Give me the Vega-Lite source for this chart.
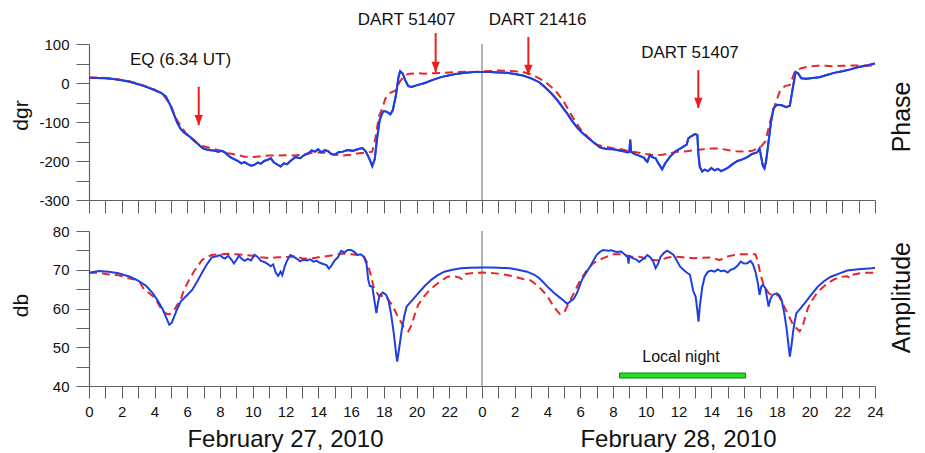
{
  "$schema": "https://vega.github.io/schema/vega-lite/v6.json",
  "padding": {"left": 10, "top": 11, "right": 4, "bottom": 4},
  "bounds": "flush",
  "spacing": 31,
  "config": {
    "font": "Liberation Sans",
    "view": {"stroke": null},
    "axis": {"labelColor": "#111", "titleColor": "#111", "labelFontSize": 15, "titleFontSize": 21, "titleFontWeight": "normal", "grid": false}
  },
  "datasets": {
    "phaseObs": [
      {"h":0,"v":13},{"h":0.5,"v":13},{"h":1,"v":12},{"h":1.5,"v":10},{"h":2,"v":7},{"h":2.5,"v":3},{"h":3,"v":-3},{"h":3.5,"v":-10},{"h":4,"v":-18},{"h":4.4,"v":-25},{"h":4.7,"v":-35},{"h":5.0,"v":-60},{"h":5.2,"v":-82},{"h":5.4,"v":-103},{"h":5.6,"v":-118},{"h":5.8,"v":-127},{"h":6.0,"v":-133},{"h":6.2,"v":-139},{"h":6.5,"v":-150},{"h":6.8,"v":-162},{"h":7.0,"v":-168},{"h":7.3,"v":-172},{"h":7.6,"v":-173},{"h":7.9,"v":-176},{"h":8.1,"v":-174},{"h":8.3,"v":-178},{"h":8.5,"v":-186},{"h":8.7,"v":-192},{"h":8.9,"v":-196},{"h":9.1,"v":-200},{"h":9.3,"v":-206},{"h":9.5,"v":-203},{"h":9.7,"v":-208},{"h":9.9,"v":-212},{"h":10.1,"v":-210},{"h":10.3,"v":-204},{"h":10.5,"v":-207},{"h":10.7,"v":-200},{"h":10.9,"v":-197},{"h":11.1,"v":-193},{"h":11.3,"v":-204},{"h":11.5,"v":-209},{"h":11.7,"v":-214},{"h":11.9,"v":-206},{"h":12.1,"v":-208},{"h":12.3,"v":-200},{"h":12.6,"v":-190},{"h":12.9,"v":-193},{"h":13.1,"v":-186},{"h":13.4,"v":-180},{"h":13.6,"v":-173},{"h":13.8,"v":-176},{"h":14.0,"v":-170},{"h":14.2,"v":-178},{"h":14.4,"v":-172},{"h":14.6,"v":-175},{"h":14.8,"v":-182},{"h":15.0,"v":-184},{"h":15.2,"v":-178},{"h":15.5,"v":-176},{"h":15.8,"v":-172},{"h":16.1,"v":-174},{"h":16.4,"v":-170},{"h":16.7,"v":-167},{"h":16.9,"v":-175},{"h":17.1,"v":-192},{"h":17.3,"v":-213},{"h":17.45,"v":-195},{"h":17.6,"v":-140},{"h":17.75,"v":-95},{"h":17.9,"v":-78},{"h":18.0,"v":-72},{"h":18.2,"v":-74},{"h":18.4,"v":-80},{"h":18.55,"v":-70},{"h":18.75,"v":-30},{"h":18.9,"v":15},{"h":19.0,"v":30},{"h":19.15,"v":25},{"h":19.3,"v":8},{"h":19.5,"v":-8},{"h":19.7,"v":-10},{"h":20.0,"v":-6},{"h":20.5,"v":0},{"h":21.0,"v":8},{"h":21.5,"v":15},{"h":22.0,"v":20},{"h":22.5,"v":24},{"h":23.0,"v":26},{"h":23.5,"v":28},{"h":24.0,"v":28},
      {"h":24.5,"v":28},{"h":25.0,"v":27},{"h":25.5,"v":26},{"h":26.0,"v":23},{"h":26.5,"v":19},{"h":27.0,"v":12},{"h":27.5,"v":2},{"h":27.8,"v":-9},{"h":28.2,"v":-25},{"h":28.6,"v":-44},{"h":29.0,"v":-67},{"h":29.2,"v":-78},{"h":29.5,"v":-97},{"h":29.8,"v":-114},{"h":30.1,"v":-127},{"h":30.4,"v":-138},{"h":30.8,"v":-152},{"h":31.2,"v":-165},{"h":31.6,"v":-169},{"h":32.0,"v":-170},{"h":32.4,"v":-173},{"h":32.7,"v":-176},{"h":32.9,"v":-178},{"h":33.0,"v":-176},{"h":33.05,"v":-145},{"h":33.1,"v":-176},{"h":33.3,"v":-182},{"h":33.5,"v":-185},{"h":33.7,"v":-188},{"h":33.9,"v":-192},{"h":34.0,"v":-198},{"h":34.1,"v":-202},{"h":34.25,"v":-185},{"h":34.4,"v":-190},{"h":34.6,"v":-193},{"h":34.8,"v":-208},{"h":35.0,"v":-221},{"h":35.2,"v":-205},{"h":35.5,"v":-188},{"h":35.8,"v":-176},{"h":36.1,"v":-168},{"h":36.3,"v":-163},{"h":36.5,"v":-158},{"h":36.6,"v":-142},{"h":36.8,"v":-136},{"h":37.0,"v":-131},{"h":37.15,"v":-133},{"h":37.22,"v":-185},{"h":37.3,"v":-215},{"h":37.45,"v":-227},{"h":37.6,"v":-222},{"h":37.8,"v":-226},{"h":38.0,"v":-218},{"h":38.2,"v":-224},{"h":38.4,"v":-220},{"h":38.6,"v":-226},{"h":38.8,"v":-222},{"h":39.0,"v":-218},{"h":39.3,"v":-208},{"h":39.6,"v":-200},{"h":39.9,"v":-196},{"h":40.2,"v":-190},{"h":40.5,"v":-182},{"h":40.8,"v":-178},{"h":40.95,"v":-168},{"h":41.05,"v":-190},{"h":41.15,"v":-212},{"h":41.25,"v":-219},{"h":41.35,"v":-200},{"h":41.5,"v":-150},{"h":41.65,"v":-100},{"h":41.8,"v":-65},{"h":42.0,"v":-56},{"h":42.3,"v":-57},{"h":42.6,"v":-62},{"h":42.8,"v":-58},{"h":42.95,"v":-20},{"h":43.15,"v":28},{"h":43.3,"v":25},{"h":43.5,"v":12},{"h":43.8,"v":11},{"h":44.2,"v":13},{"h":44.6,"v":15},{"h":45.0,"v":20},{"h":45.5,"v":26},{"h":46.0,"v":30},{"h":46.5,"v":35},{"h":47.0,"v":41},{"h":47.5,"v":45},{"h":48.0,"v":50}
    ],
    "phaseModel": [
      {"h":0,"v":15},{"h":0.5,"v":14},{"h":1,"v":13},{"h":1.5,"v":11},{"h":2,"v":8},{"h":2.5,"v":4},{"h":3,"v":-2},{"h":3.5,"v":-9},{"h":4,"v":-17},{"h":4.5,"v":-28},{"h":5.0,"v":-58},{"h":5.3,"v":-90},{"h":5.6,"v":-110},{"h":5.9,"v":-128},{"h":6.2,"v":-140},{"h":6.5,"v":-152},{"h":7.0,"v":-162},{"h":7.5,"v":-168},{"h":8.0,"v":-173},{"h":8.5,"v":-180},{"h":9.0,"v":-184},{"h":9.5,"v":-189},{"h":10.0,"v":-190},{"h":10.5,"v":-188},{"h":11.0,"v":-186},{"h":11.5,"v":-186},{"h":12.0,"v":-185},{"h":12.5,"v":-186},{"h":13.0,"v":-184},{"h":13.5,"v":-180},{"h":14.0,"v":-178},{"h":14.5,"v":-179},{"h":15.0,"v":-184},{"h":15.5,"v":-186},{"h":16.0,"v":-184},{"h":16.5,"v":-180},{"h":17.0,"v":-178},{"h":17.3,"v":-176},{"h":17.5,"v":-140},{"h":17.7,"v":-86},{"h":17.9,"v":-66},{"h":18.1,"v":-40},{"h":18.4,"v":-25},{"h":18.7,"v":-20},{"h":19.0,"v":5},{"h":19.3,"v":20},{"h":19.6,"v":24},{"h":20.0,"v":25},{"h":20.5,"v":24},{"h":21.0,"v":25},{"h":21.5,"v":26},{"h":22.0,"v":27},{"h":22.5,"v":28},{"h":23.0,"v":29},{"h":23.5,"v":28},{"h":24.0,"v":30},
      {"h":24.5,"v":31},{"h":25.0,"v":32},{"h":25.5,"v":31},{"h":26.0,"v":30},{"h":26.5,"v":28},{"h":27.0,"v":22},{"h":27.5,"v":12},{"h":28.0,"v":-2},{"h":28.5,"v":-20},{"h":29.0,"v":-48},{"h":29.5,"v":-85},{"h":30.0,"v":-118},{"h":30.5,"v":-140},{"h":31.0,"v":-158},{"h":31.5,"v":-163},{"h":32.0,"v":-167},{"h":32.5,"v":-170},{"h":33.0,"v":-175},{"h":33.5,"v":-178},{"h":34.0,"v":-182},{"h":34.5,"v":-185},{"h":35.0,"v":-184},{"h":35.5,"v":-180},{"h":36.0,"v":-176},{"h":36.5,"v":-175},{"h":37.0,"v":-172},{"h":37.5,"v":-170},{"h":38.0,"v":-168},{"h":38.5,"v":-168},{"h":39.0,"v":-172},{"h":39.5,"v":-175},{"h":40.0,"v":-176},{"h":40.5,"v":-174},{"h":41.0,"v":-165},{"h":41.3,"v":-150},{"h":41.6,"v":-98},{"h":41.9,"v":-55},{"h":42.2,"v":-20},{"h":42.5,"v":-8},{"h":42.8,"v":-5},{"h":43.1,"v":29},{"h":43.5,"v":38},{"h":44.0,"v":43},{"h":44.5,"v":44},{"h":45.0,"v":44},{"h":45.5,"v":43},{"h":46.0,"v":44},{"h":46.5,"v":45},{"h":47.0,"v":45},{"h":47.5,"v":45},{"h":48.0,"v":44}
    ],
    "ampObs": [
      {"h":0,"v":69.2},{"h":0.6,"v":69.7},{"h":1.2,"v":69.5},{"h":1.8,"v":69.1},{"h":2.5,"v":68.2},{"h":3.0,"v":67.2},{"h":3.5,"v":65.8},{"h":3.9,"v":63.9},{"h":4.2,"v":62.0},{"h":4.5,"v":59.8},{"h":4.75,"v":57.3},{"h":4.9,"v":55.8},{"h":5.05,"v":56.3},{"h":5.2,"v":57.9},{"h":5.4,"v":60.0},{"h":5.6,"v":61.8},{"h":6.0,"v":63.5},{"h":6.3,"v":64.8},{"h":6.6,"v":66.9},{"h":6.9,"v":69.2},{"h":7.2,"v":71.4},{"h":7.5,"v":73.2},{"h":7.8,"v":73.5},{"h":8.0,"v":73.8},{"h":8.15,"v":73.2},{"h":8.3,"v":72.9},{"h":8.5,"v":73.6},{"h":8.7,"v":72.6},{"h":8.85,"v":71.6},{"h":9.0,"v":72.5},{"h":9.15,"v":73.6},{"h":9.3,"v":72.9},{"h":9.5,"v":72.3},{"h":9.7,"v":72.8},{"h":9.9,"v":72.4},{"h":10.1,"v":73.9},{"h":10.3,"v":73.3},{"h":10.5,"v":72.3},{"h":10.7,"v":72.0},{"h":10.9,"v":71.5},{"h":11.1,"v":70.9},{"h":11.25,"v":71.4},{"h":11.4,"v":69.3},{"h":11.55,"v":68.4},{"h":11.7,"v":69.5},{"h":11.8,"v":68.6},{"h":11.95,"v":70.8},{"h":12.1,"v":72.4},{"h":12.3,"v":73.8},{"h":12.5,"v":73.4},{"h":12.7,"v":72.8},{"h":12.9,"v":72.2},{"h":13.1,"v":72.6},{"h":13.3,"v":72.4},{"h":13.5,"v":72.7},{"h":13.7,"v":72.1},{"h":13.9,"v":72.3},{"h":14.1,"v":71.8},{"h":14.3,"v":71.5},{"h":14.5,"v":71.2},{"h":14.65,"v":70.3},{"h":14.8,"v":71.0},{"h":15.0,"v":72.4},{"h":15.2,"v":73.2},{"h":15.4,"v":74.9},{"h":15.6,"v":74.5},{"h":15.8,"v":75.1},{"h":16.0,"v":75.1},{"h":16.2,"v":74.6},{"h":16.4,"v":73.8},{"h":16.6,"v":74.0},{"h":16.8,"v":73.2},{"h":16.95,"v":71.5},{"h":17.05,"v":67.5},{"h":17.15,"v":65.8},{"h":17.3,"v":65.6},{"h":17.45,"v":61.5},{"h":17.55,"v":58.8},{"h":17.65,"v":61.5},{"h":17.75,"v":63.4},{"h":17.95,"v":64.1},{"h":18.15,"v":63.5},{"h":18.3,"v":62.0},{"h":18.45,"v":58.5},{"h":18.6,"v":54.0},{"h":18.75,"v":48.5},{"h":18.82,"v":46.3},{"h":18.95,"v":50.0},{"h":19.1,"v":54.5},{"h":19.25,"v":58.0},{"h":19.4,"v":60.5},{"h":19.5,"v":61.0},{"h":19.8,"v":62.4},{"h":20.1,"v":63.9},{"h":20.5,"v":65.8},{"h":20.9,"v":67.4},{"h":21.3,"v":68.6},{"h":21.7,"v":69.5},{"h":22.2,"v":70.0},{"h":22.7,"v":70.4},{"h":23.3,"v":70.5},{"h":24.0,"v":70.6},
      {"h":24.5,"v":70.6},{"h":25.0,"v":70.5},{"h":25.7,"v":70.4},{"h":26.2,"v":70.0},{"h":26.75,"v":69.5},{"h":27.2,"v":68.7},{"h":27.5,"v":67.8},{"h":27.8,"v":66.5},{"h":28.1,"v":65.2},{"h":28.4,"v":64.0},{"h":28.7,"v":63.0},{"h":29.0,"v":62.0},{"h":29.2,"v":61.2},{"h":29.35,"v":61.7},{"h":29.6,"v":62.5},{"h":29.8,"v":64.0},{"h":30.1,"v":67.4},{"h":30.4,"v":69.5},{"h":30.6,"v":70.8},{"h":30.8,"v":72.3},{"h":31.0,"v":73.8},{"h":31.2,"v":74.6},{"h":31.4,"v":75.1},{"h":31.7,"v":74.9},{"h":31.9,"v":75.0},{"h":32.2,"v":74.6},{"h":32.5,"v":74.7},{"h":32.7,"v":74.0},{"h":32.9,"v":73.2},{"h":32.95,"v":71.6},{"h":33.0,"v":73.5},{"h":33.2,"v":73.0},{"h":33.4,"v":72.7},{"h":33.6,"v":72.0},{"h":33.75,"v":72.5},{"h":33.9,"v":73.0},{"h":34.1,"v":73.8},{"h":34.3,"v":73.1},{"h":34.45,"v":72.2},{"h":34.6,"v":70.4},{"h":34.75,"v":71.5},{"h":34.9,"v":73.3},{"h":35.1,"v":74.3},{"h":35.3,"v":74.9},{"h":35.5,"v":74.4},{"h":35.7,"v":73.8},{"h":35.9,"v":72.3},{"h":36.1,"v":70.8},{"h":36.3,"v":70.0},{"h":36.5,"v":69.3},{"h":36.7,"v":68.7},{"h":36.9,"v":64.5},{"h":37.05,"v":63.0},{"h":37.15,"v":59.5},{"h":37.22,"v":56.6},{"h":37.3,"v":60.5},{"h":37.45,"v":65.5},{"h":37.6,"v":68.2},{"h":37.8,"v":69.5},{"h":38.0,"v":69.8},{"h":38.2,"v":69.5},{"h":38.4,"v":70.1},{"h":38.6,"v":69.6},{"h":38.8,"v":69.8},{"h":39.0,"v":69.3},{"h":39.2,"v":70.0},{"h":39.4,"v":70.3},{"h":39.6,"v":71.0},{"h":39.8,"v":72.1},{"h":40.0,"v":71.6},{"h":40.2,"v":71.7},{"h":40.4,"v":72.3},{"h":40.55,"v":71.4},{"h":40.7,"v":69.5},{"h":40.85,"v":66.5},{"h":40.95,"v":63.5},{"h":41.05,"v":65.6},{"h":41.15,"v":66.1},{"h":41.3,"v":65.3},{"h":41.42,"v":62.5},{"h":41.5,"v":60.5},{"h":41.62,"v":62.5},{"h":41.75,"v":63.5},{"h":42.0,"v":63.9},{"h":42.15,"v":63.5},{"h":42.3,"v":62.2},{"h":42.45,"v":59.0},{"h":42.6,"v":54.9},{"h":42.72,"v":50.5},{"h":42.8,"v":47.6},{"h":42.9,"v":50.5},{"h":43.0,"v":54.0},{"h":43.1,"v":56.8},{"h":43.2,"v":58.8},{"h":43.4,"v":59.8},{"h":43.7,"v":61.3},{"h":44.1,"v":63.5},{"h":44.5,"v":65.6},{"h":44.9,"v":67.1},{"h":45.3,"v":68.2},{"h":45.8,"v":69.0},{"h":46.3,"v":69.8},{"h":47.0,"v":70.1},{"h":47.8,"v":70.4},{"h":48.0,"v":70.5}
    ],
    "ampModel": [
      {"h":0,"v":69.2},{"h":0.6,"v":69.2},{"h":1.2,"v":68.8},{"h":1.8,"v":68.6},{"h":2.4,"v":67.8},{"h":2.8,"v":67.5},{"h":3.1,"v":66.8},{"h":3.35,"v":65.0},{"h":3.6,"v":64.2},{"h":3.9,"v":63.2},{"h":4.2,"v":61.5},{"h":4.45,"v":59.6},{"h":4.7,"v":58.7},{"h":4.9,"v":58.5},{"h":5.15,"v":59.2},{"h":5.4,"v":61.0},{"h":5.6,"v":62.3},{"h":5.8,"v":64.8},{"h":6.1,"v":67.3},{"h":6.4,"v":69.5},{"h":6.7,"v":71.3},{"h":6.9,"v":72.5},{"h":7.2,"v":73.3},{"h":7.5,"v":73.8},{"h":8.0,"v":74.0},{"h":8.5,"v":74.1},{"h":9.0,"v":74.0},{"h":9.5,"v":73.8},{"h":10.0,"v":73.6},{"h":10.5,"v":73.2},{"h":11.0,"v":73.0},{"h":11.5,"v":73.2},{"h":12.0,"v":73.3},{"h":12.5,"v":73.4},{"h":13.0,"v":73.0},{"h":13.5,"v":72.8},{"h":14.0,"v":73.2},{"h":14.5,"v":73.5},{"h":15.0,"v":73.8},{"h":15.5,"v":74.2},{"h":16.0,"v":74.0},{"h":16.5,"v":73.8},{"h":16.8,"v":73.4},{"h":17.0,"v":71.7},{"h":17.2,"v":68.8},{"h":17.4,"v":65.3},{"h":17.7,"v":63.3},{"h":18.1,"v":63.2},{"h":18.5,"v":61.0},{"h":18.9,"v":57.6},{"h":19.2,"v":55.4},{"h":19.5,"v":54.1},{"h":19.7,"v":55.8},{"h":19.9,"v":58.5},{"h":20.1,"v":60.9},{"h":20.4,"v":62.8},{"h":20.7,"v":64.3},{"h":21.0,"v":65.5},{"h":21.3,"v":66.5},{"h":21.6,"v":67.4},{"h":21.9,"v":68.2},{"h":22.3,"v":68.3},{"h":22.6,"v":68.0},{"h":22.75,"v":67.6},{"h":23.0,"v":68.9},{"h":23.5,"v":69.2},{"h":24.0,"v":69.3},
      {"h":24.5,"v":69.2},{"h":25.0,"v":69.0},{"h":25.6,"v":68.6},{"h":26.0,"v":68.2},{"h":26.5,"v":67.6},{"h":27.0,"v":67.2},{"h":27.5,"v":65.5},{"h":28.0,"v":63.2},{"h":28.3,"v":61.0},{"h":28.6,"v":59.3},{"h":28.75,"v":58.6},{"h":29.0,"v":58.8},{"h":29.3,"v":61.4},{"h":29.6,"v":63.9},{"h":30.0,"v":67.3},{"h":30.4,"v":69.9},{"h":30.8,"v":71.7},{"h":31.4,"v":73.0},{"h":32.0,"v":74.0},{"h":32.5,"v":74.0},{"h":33.1,"v":73.4},{"h":33.7,"v":73.3},{"h":34.2,"v":72.6},{"h":34.8,"v":72.4},{"h":35.3,"v":73.1},{"h":35.7,"v":73.4},{"h":36.3,"v":73.2},{"h":36.9,"v":73.0},{"h":37.5,"v":73.1},{"h":38.0,"v":73.2},{"h":38.5,"v":72.5},{"h":39.0,"v":73.4},{"h":39.6,"v":74.0},{"h":40.2,"v":74.0},{"h":40.7,"v":74.0},{"h":40.85,"v":72.1},{"h":41.0,"v":68.8},{"h":41.2,"v":66.1},{"h":41.5,"v":64.0},{"h":41.7,"v":63.5},{"h":42.1,"v":63.4},{"h":42.3,"v":61.8},{"h":42.7,"v":58.4},{"h":43.0,"v":55.8},{"h":43.4,"v":54.1},{"h":43.6,"v":55.8},{"h":43.9,"v":60.1},{"h":44.2,"v":62.4},{"h":44.5,"v":64.3},{"h":45.1,"v":66.5},{"h":45.5,"v":67.5},{"h":45.9,"v":68.2},{"h":46.3,"v":68.3},{"h":46.5,"v":67.8},{"h":46.7,"v":68.8},{"h":47.2,"v":69.2},{"h":48.0,"v":69.2}
    ],
    "arrows": [
      {"h":6.7,"top":-9.5,"tip":-108},
      {"h":21.17,"top":128,"tip":28},
      {"h":26.83,"top":118,"tip":20.5},
      {"h":37.21,"top":33,"tip":-64}
    ],
    "phaseText": [
      {"h":5.59,"v":57.7,"label":"EQ (6.34 UT)"},
      {"h":19.4,"v":161.5,"label":"DART 51407"},
      {"h":27.4,"v":161.5,"label":"DART 21416"},
      {"h":36.7,"v":78,"label":"DART 51407"}
    ]
  },
  "vconcat": [
    {
      "width": 786,
      "height": 156,
      "layer": [
        {
          "data": {"name": "phaseObs"},
          "mark": {"type": "line", "color": "#1f3fe0", "strokeWidth": 2},
          "encoding": {
            "x": {"field": "h", "type": "quantitative", "scale": {"domain": [0, 48], "nice": false},
              "axis": {"tickCount": 48, "labels": false, "title": null, "ticks": true, "tickSize": 13, "tickColor": "#606060", "domainColor": "#606060", "domainWidth": 1.2}},
            "y": {"field": "v", "type": "quantitative", "scale": {"domain": [-300, 100], "nice": false, "zero": false},
              "axis": {"tickCount": 8, "labelExpr": "datum.value % 100 == 0 ? '' + datum.value : ''", "labelOverlap": false, "ticks": true, "tickSize": 13, "tickColor": "#606060", "domainColor": "#606060", "domainWidth": 1.2, "labelPadding": 7, "title": "dgr", "titleAngle": 270, "titleAlign": "center", "titleBaseline": "middle", "titleX": -68, "titleY": 71}}
          }
        },
        {
          "data": {"values": [{"h": 24}]},
          "mark": {"type": "rule", "color": "#808080", "strokeWidth": 1.2},
          "encoding": {"x": {"field": "h", "type": "quantitative"}}
        },
        {
          "data": {"name": "phaseModel"},
          "mark": {"type": "line", "color": "#e8262a", "strokeWidth": 2, "strokeDash": [8, 5]},
          "encoding": {
            "x": {"field": "h", "type": "quantitative"},
            "y": {"field": "v", "type": "quantitative"}
          }
        },
        {
          "data": {"name": "phaseObs"},
          "mark": {"type": "line", "color": "#1f3fe0", "strokeWidth": 2},
          "encoding": {
            "x": {"field": "h", "type": "quantitative"},
            "y": {"field": "v", "type": "quantitative"}
          }
        },
        {
          "data": {"name": "arrows"},
          "mark": {"type": "rule", "color": "#e8201e", "strokeWidth": 2},
          "encoding": {
            "x": {"field": "h", "type": "quantitative"},
            "y": {"field": "top", "type": "quantitative"},
            "y2": {"field": "tip"}
          }
        },
        {
          "data": {"name": "arrows"},
          "mark": {"type": "point", "shape": "M-0.8,-1L0.8,-1L0,1Z", "filled": true, "size": 110, "color": "#e8201e", "opacity": 1, "yOffset": -5},
          "encoding": {
            "x": {"field": "h", "type": "quantitative"},
            "y": {"field": "tip", "type": "quantitative"}
          }
        },
        {
          "data": {"name": "phaseText"},
          "mark": {"type": "text", "fontSize": 17, "color": "#111", "align": "center", "baseline": "middle"},
          "encoding": {
            "x": {"field": "h", "type": "quantitative"},
            "y": {"field": "v", "type": "quantitative"},
            "text": {"field": "label"}
          }
        },
        {
          "data": {"values": [{"h": 49.65, "v": -87, "label": "Phase"}]},
          "mark": {"type": "text", "fontSize": 25, "color": "#111", "align": "center", "baseline": "middle", "angle": 270},
          "encoding": {
            "x": {"field": "h", "type": "quantitative"},
            "y": {"field": "v", "type": "quantitative"},
            "text": {"field": "label"}
          }
        }
      ]
    },
    {
      "width": 786,
      "height": 155,
      "layer": [
        {
          "data": {"name": "ampObs"},
          "mark": {"type": "line", "color": "#1f3fe0", "strokeWidth": 2, "opacity": 0},
          "encoding": {
            "x": {"field": "h", "type": "quantitative", "scale": {"domain": [0, 48], "nice": false},
              "axis": {"tickCount": 48, "labelExpr": "datum.value % 2 != 0 ? '' : (datum.value > 24 ? '' + (datum.value - 24) : (datum.value == 24 ? '0' : '' + datum.value))", "labelOverlap": false, "labelFlush": false, "title": null, "ticks": true, "tickSize": 12, "tickColor": "#606060", "domainColor": "#606060", "domainWidth": 1.2, "labelPadding": 6}},
            "y": {"field": "v", "type": "quantitative", "scale": {"domain": [40, 80], "nice": false, "zero": false},
              "axis": {"tickCount": 8, "labelExpr": "datum.value % 10 == 0 ? '' + datum.value : ''", "labelOverlap": false, "ticks": true, "tickSize": 13, "tickColor": "#606060", "domainColor": "#606060", "domainWidth": 1.2, "labelPadding": 7, "title": "db", "titleAngle": 270, "titleAlign": "center", "titleBaseline": "middle", "titleX": -68, "titleY": 74}}
          }
        },
        {
          "data": {"values": [{"h": 24}]},
          "mark": {"type": "rule", "color": "#808080", "strokeWidth": 1.2},
          "encoding": {"x": {"field": "h", "type": "quantitative"}}
        },
        {
          "data": {"name": "ampModel"},
          "mark": {"type": "line", "color": "#e8262a", "strokeWidth": 2, "strokeDash": [8, 5]},
          "encoding": {
            "x": {"field": "h", "type": "quantitative"},
            "y": {"field": "v", "type": "quantitative"}
          }
        },
        {
          "data": {"name": "ampObs"},
          "mark": {"type": "line", "color": "#1f3fe0", "strokeWidth": 2},
          "encoding": {
            "x": {"field": "h", "type": "quantitative"},
            "y": {"field": "v", "type": "quantitative"}
          }
        },
        {
          "data": {"values": [{"start": 32.4, "end": 40.1, "lo": 42.06, "hi": 43.35}]},
          "mark": {"type": "rect", "color": "#22e022", "stroke": "#1b7a1b", "strokeWidth": 1},
          "encoding": {
            "x": {"field": "start", "type": "quantitative"},
            "x2": {"field": "end"},
            "y": {"field": "lo", "type": "quantitative"},
            "y2": {"field": "hi"}
          }
        },
        {
          "data": {"values": [{"h": 36.15, "v": 47.5, "label": "Local night"}]},
          "mark": {"type": "text", "fontSize": 16, "color": "#111", "align": "center", "baseline": "middle"},
          "encoding": {
            "x": {"field": "h", "type": "quantitative"},
            "y": {"field": "v", "type": "quantitative"},
            "text": {"field": "label"}
          }
        },
        {
          "data": {"values": [{"h": 12, "v": 26.06, "label": "February 27, 2010"}, {"h": 36, "v": 26.06, "label": "February 28, 2010"}]},
          "mark": {"type": "text", "fontSize": 24, "color": "#111", "align": "center", "baseline": "middle"},
          "encoding": {
            "x": {"field": "h", "type": "quantitative"},
            "y": {"field": "v", "type": "quantitative"},
            "text": {"field": "label"}
          }
        },
        {
          "data": {"values": [{"h": 49.65, "v": 62.8, "label": "Amplitude"}]},
          "mark": {"type": "text", "fontSize": 25, "color": "#111", "align": "center", "baseline": "middle", "angle": 270},
          "encoding": {
            "x": {"field": "h", "type": "quantitative"},
            "y": {"field": "v", "type": "quantitative"},
            "text": {"field": "label"}
          }
        }
      ]
    }
  ]
}
